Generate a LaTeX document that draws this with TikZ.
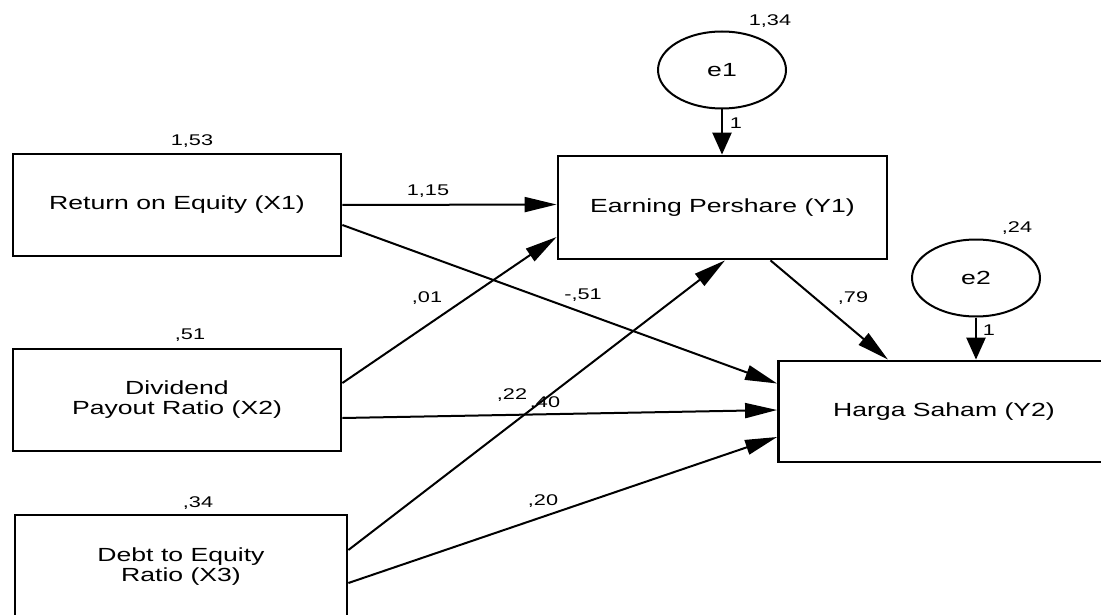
\documentclass[tikz,border=0pt]{standalone}
\usepackage{fontspec}
\setmainfont{Liberation Sans}[FakeStretch=1.4]
\usetikzlibrary{arrows.meta,calc,shapes.geometric}
\begin{document}
\begin{tikzpicture}[x=1pt,y=-1pt,
  box/.style={draw,line width=2.8pt,inner sep=0pt,align=center,
    font=\fontsize{19}{20}\selectfont},
  err/.style={draw,ellipse,line width=2pt,inner sep=0pt,minimum width=128pt,
    minimum height=77pt,font=\fontsize{19}{20}\selectfont},
  lbl/.style={inner sep=0pt,font=\fontsize{15.5}{16}\selectfont},
  reg/.style={line width=2pt,-{Triangle[length=32pt,width=15pt]}},
  fix/.style={line width=2.4pt,-{Triangle[length=22pt,width=19pt]}}]
\useasboundingbox (0,0) rectangle (1101,615);
\clip (0,0) rectangle (1101,615);
\fill[white] (0,0) rectangle (1101,615);

% observed variables
\node[box,minimum width=328pt,minimum height=102pt] (X1) at (177,205) {Return on Equity (X1)};
\node[box,minimum width=328pt,minimum height=102pt] (X2) at (177,400) {Dividend\\Payout Ratio (X2)};
\node[box,minimum width=332pt,minimum height=104pt] (X3) at (181,567) {Debt to Equity\\Ratio (X3)};
\node[box,minimum width=329pt,minimum height=103pt] (Y1) at (722.5,207.5) {Earning Pershare (Y1)};
\node[box,minimum width=331pt,minimum height=101pt] (Y2) at (944,411.5) {Harga Saham (Y2)};

% error terms
\node[err] (e1) at (722,70) {e1};
\node[err] (e2) at (976,278) {e2};

% paths
\draw[reg] (X1.east) -- ([yshift=3pt]Y1.west);
\draw[reg] ([yshift=-20pt]X1.east) -- ([yshift=28pt]Y2.west);
\draw[reg] ([yshift=17pt]X2.east) -- ([yshift=-29.5pt]Y1.west);
\draw[reg] ([yshift=-18pt]X2.east) -- ([yshift=1.5pt]Y2.west);
\draw[reg] ([yshift=17pt]X3.east) -- ([xshift=2.5pt]Y1.south);
\draw[reg] ([yshift=-16pt]X3.east) -- ([yshift=-25.5pt]Y2.west);
\draw[reg] ([xshift=48pt]Y1.south) -- ([xshift=-56pt]Y2.north);
\draw[fix] (e1.south) -- (e1.south |- Y1.north);
\draw[fix] (e2.south) -- (e2.south |- Y2.north);

% labels
\node[lbl] (l1) at (192,141) {1,53};
\node[lbl] (l2) at (190,335) {,51};
\node[lbl] (l3) at (198,503) {,34};
\node[lbl] (l4) at (770,21) {1,34};
\node[lbl] (l5) at (1017,228) {,24};
\node[lbl] (l6) at (736,123) {1};
\node[lbl] (l7) at (989,330) {1};
\node[lbl] (l8) at (428,191) {1,15};
\node[lbl] (l9) at (583,295) {-,51};
\node[lbl] (l10) at (427,298) {,01};
\node[lbl] (l11) at (512,395) {,22};
\node[lbl] (l12) at (545,403) {,40};
\node[lbl] (l13) at (543,501) {,20};
\node[lbl] (l14) at (853,298) {,79};
\end{tikzpicture}
\end{document}
